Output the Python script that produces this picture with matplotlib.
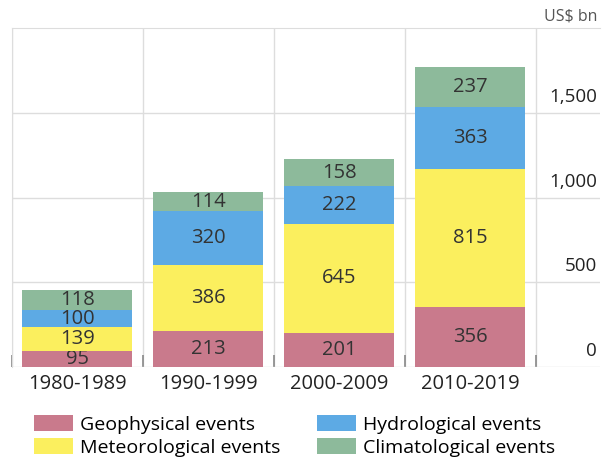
import matplotlib.pyplot as plt
import numpy as np

plt.rcParams['font.family'] = ['Open Sans', 'DejaVu Sans']

# datos
decades = ["1980-1989", "1990-1999", "2000-2009", "2010-2019"]
geophysical = [95, 213, 201, 356]
meteorological = [139, 386, 645, 815]
hydrological = [100, 320, 222, 363]
climatological = [118, 114, 158, 237]
series_names = ["Geophysical events", "Meteorological events",
                "Hydrological events", "Climatological events"]
colors = ["#C97A8C", "#FBEF5E", "#5DAAE4", "#8DBA9B"]
y_ticks = [0, 500, 1000, 1500]
unit = "US$ bn"

fig = plt.figure(figsize=(6.02, 4.62), dpi=100)
ax = fig.add_axes([12 / 602, 95 / 462, 588 / 602, 339 / 462])

x = np.arange(len(decades))
bottom = np.zeros(len(decades))
handles = []
for name, vals, col in zip(series_names,
                           [geophysical, meteorological, hydrological, climatological],
                           colors):
    bars = ax.bar(x, vals, width=0.84, bottom=bottom, color=col, label=name, zorder=3)
    ax.bar_label(bars, labels=[str(v) for v in vals], label_type='center',
                 fontsize=14.5, color='#333333')
    handles.append(bars)
    bottom += np.array(vals)

ax.set_xlim(-0.5, 3.99)
ax.set_ylim(0, 2000)

# grid
ax.set_yticks(y_ticks)
ax.yaxis.grid(True, color='#dddddd', lw=1, zorder=0)
ax.set_xticks(np.arange(-0.5, 4.0, 1), minor=True)
ax.xaxis.grid(True, which='minor', color='#dddddd', lw=1, zorder=0)
ax.tick_params(axis='x', which='minor', direction='in', length=9, color='#888888', width=1.2)
ax.set_xticks(x)
ax.set_xticklabels(decades, fontsize=14.5, color='#222222')
ax.tick_params(axis='x', which='major', length=0, pad=5)
ax.tick_params(axis='y', length=0, labelleft=False)

for s in ['right', 'bottom']:
    ax.spines[s].set_visible(False)
ax.spines['left'].set_color('#dddddd')
ax.spines['top'].set_color('#dddddd')

for t in y_ticks:
    ax.text(3.965, t + 40, f"{t:,}", ha='right', va='bottom', fontsize=13.5, color='#222222')

fig.text(0.992, 0.965, unit, ha='right', va='center', fontsize=11.5, color='#555555')

fig.legend(handles, series_names, loc='lower left', bbox_to_anchor=(0.028, -0.027),
           ncol=2, frameon=False, fontsize=14, handlelength=2.0, handleheight=0.85,
           columnspacing=1.9, labelspacing=0.25, handletextpad=0.35)

plt.savefig('out.png', dpi=100)
plt.close()
